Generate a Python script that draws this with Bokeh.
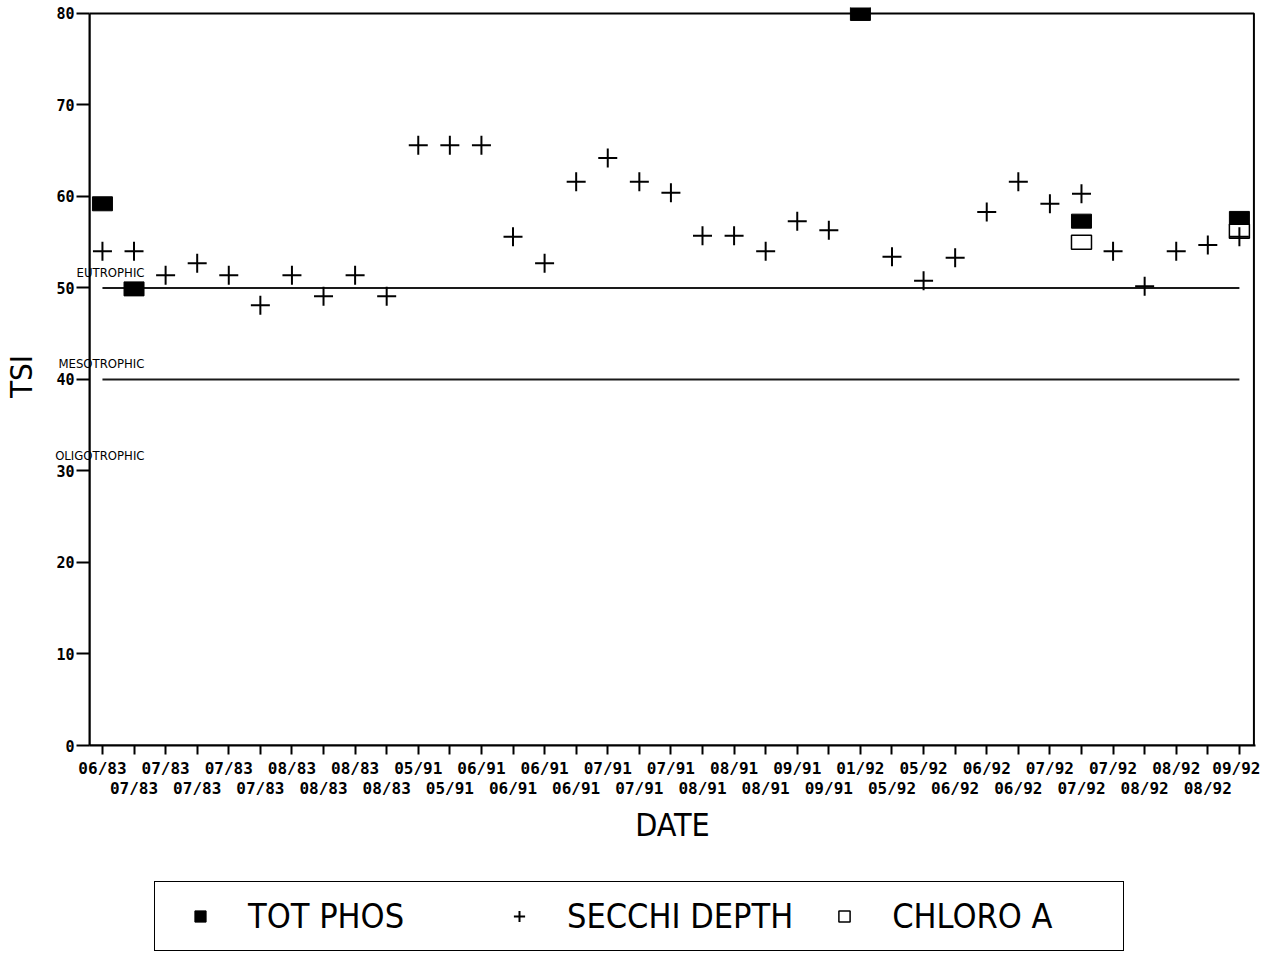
import numpy as np
from bokeh.plotting import figure
from bokeh.layouts import column
from bokeh.models import (Range1d, FixedTicker, SingleIntervalTicker, LinearAxis,
                          Legend, LegendItem, BoxAnnotation, ColumnDataSource)
from bokeh.embed import file_html
from bokeh.resources import INLINE

# ---------------- data ----------------
dates = ["06/83", "07/83", "07/83", "07/83", "07/83", "07/83", "08/83", "08/83",
         "08/83", "08/83", "05/91", "05/91", "06/91", "06/91", "06/91", "06/91",
         "07/91", "07/91", "07/91", "08/91", "08/91", "08/91", "09/91", "09/91",
         "01/92", "05/92", "05/92", "06/92", "06/92", "06/92", "07/92", "07/92",
         "07/92", "08/92", "08/92", "08/92", "09/92"]

secchi_depth = [54.0, 54.0, 51.4, 52.7, 51.4, 48.1, 51.4, 49.1, 51.4, 49.1,
                65.6, 65.6, 65.6, 55.6, 52.7, 61.6, 64.2, 61.6, 60.4, 55.7,
                55.7, 54.0, 57.3, 56.3, None, 53.4, 50.8, 53.3, 58.3, 61.6,
                59.2, 60.3, 54.0, 50.2, 54.0, 54.7, 55.6]

tot_phos = [59.2, 49.9, None, None, None, None, None, None, None, None,
            None, None, None, None, None, None, None, None, None, None,
            None, None, None, None, 80.0, None, None, None, None, None,
            None, 57.3, None, None, None, None, 57.6]

chloro_a = [None, None, None, None, None, None, None, None, None, None,
            None, None, None, None, None, None, None, None, None, None,
            None, None, None, None, None, None, None, None, None, None,
            None, 55.0, None, None, None, None, 56.2]

trophic_lines = [50, 40]
trophic_names = ["EUTROPHIC", "MESOTROPHIC", "OLIGOTROPHIC"]
trophic_label_levels = [50, 40, 30]
y_ticks = [0, 10, 20, 30, 40, 50, 60, 70, 80]


def arr(v):
    return np.array([np.nan if a is None else a for a in v], dtype=float)


n = len(dates)
xs = np.arange(n)
src = ColumnDataSource(dict(x=xs, secchi=arr(secchi_depth), tp=arr(tot_phos),
                            chl=arr(chloro_a)))
tp_mask = ~np.isnan(arr(tot_phos))
chl_mask = ~np.isnan(arr(chloro_a))
src_tp = ColumnDataSource(dict(x=xs[tp_mask], y=arr(tot_phos)[tp_mask]))
src_chl = ColumnDataSource(dict(x=xs[chl_mask], y=arr(chloro_a)[chl_mask]))

NARROW = "DejaVu Sans Condensed, Liberation Sans, sans-serif"
MONO = "DejaVu Sans Mono"

FRAME_H = 739
Y_END = y_ticks[-1] + 0.65
PX_PER_UNIT = FRAME_H / Y_END
X_END = n - 1 + 0.51

p = figure(width=1260, height=7 + FRAME_H + 100, output_backend="svg",
           toolbar_location=None,
           x_range=Range1d(-0.41, X_END),
           y_range=Range1d(0, Y_END),
           min_border_left=82, min_border_right=5, min_border_top=7,
           min_border_bottom=100)
p.outline_line_color = None
p.xgrid.visible = False
p.ygrid.visible = False
p.background_fill_color = "white"
p.border_fill_color = "white"

# frame box 0..80
p.add_layout(BoxAnnotation(bottom=y_ticks[0], top=y_ticks[-1], right=X_END - 0.05,
                           fill_alpha=0, line_color="black", line_alpha=1,
                           line_width=2))

# reference lines
p.segment(x0=[xs[0]] * len(trophic_lines), x1=[xs[-1]] * len(trophic_lines),
          y0=trophic_lines, y1=trophic_lines, line_color="#1a1a1a", line_width=2)

# data
p.rect("x", "y", source=src_tp, width=20, height=14, width_units="screen",
       height_units="screen", fill_color="black", line_color="black")
p.rect("x", "y", source=src_chl, width=20, height=14, width_units="screen",
       height_units="screen", fill_color="white", line_color="black", line_width=1.5)
p.scatter("x", "secchi", source=src, marker="cross", size=19,
          line_color="black", line_width=2)

# x axes (two rows of labels)
ticker = FixedTicker(ticks=list(range(n)), minor_ticks=[])
xa = p.xaxis[0]
xa.ticker = ticker
xa.major_label_overrides = {i: (d if i % 2 == 0 else "") for i, d in enumerate(dates)}
xa.axis_line_width = 2
xa.major_tick_line_width = 2
xa.major_tick_out = 9
xa.major_tick_in = 0
xa.minor_tick_line_color = None
xa.major_label_standoff = 4
xa.major_label_text_font = MONO
xa.major_label_text_font_style = "bold"
xa.major_label_text_font_size = "16px"
xa.major_label_text_color = "black"

xa2 = LinearAxis(ticker=ticker)
xa2.major_label_overrides = {i: (d if i % 2 == 1 else "") for i, d in enumerate(dates)}
xa2.axis_line_color = None
xa2.major_tick_line_color = None
xa2.major_tick_out = 0
xa2.major_tick_in = 0
xa2.minor_tick_line_color = None
xa2.major_label_standoff = -2
xa2.major_label_text_font = MONO
xa2.major_label_text_font_style = "bold"
xa2.major_label_text_font_size = "16px"
xa2.major_label_text_color = "black"
xa2.axis_label = "DATE"
xa2.axis_label_text_font = NARROW
xa2.axis_label_text_font_style = "normal"
xa2.axis_label_text_font_size = "32px"
xa2.axis_label_text_color = "black"
xa2.axis_label_standoff = 5
p.add_layout(xa2, "below")

# y axis
ya = p.yaxis[0]
ya.ticker = SingleIntervalTicker(interval=10, num_minor_ticks=0)
ya.bounds = (y_ticks[0], y_ticks[-1])
ya.axis_line_width = 2
ya.major_tick_line_width = 2
ya.major_tick_out = 13
ya.major_tick_in = 0
ya.minor_tick_line_color = None
ya.major_label_standoff = 2
ya.major_label_text_font = MONO
ya.major_label_text_font_style = "bold"
ya.major_label_text_font_size = "15px"
ya.major_label_text_color = "black"
ya.axis_label = "TSI"
ya.axis_label_text_font = NARROW
ya.axis_label_text_font_style = "normal"
ya.axis_label_text_font_size = "31px"
ya.axis_label_text_color = "black"
ya.axis_label_standoff = 14

# trophic-state names: an extra label-only axis whose labels float over the main axis
label_shift = 15.5 / PX_PER_UNIT
label_ticks = [lev + label_shift for lev in trophic_label_levels]
ya2 = LinearAxis(ticker=FixedTicker(ticks=label_ticks, minor_ticks=[]))
ya2.major_label_overrides = {t: nm for t, nm in zip(label_ticks, trophic_names)}
ya2.axis_line_color = None
ya2.major_tick_line_color = None
ya2.major_tick_out = 0
ya2.major_tick_in = 0
ya2.minor_tick_line_color = None
ya2.major_label_standoff = -144
ya2.major_label_text_font = NARROW
ya2.major_label_text_font_size = "13px"
ya2.major_label_text_color = "black"
p.add_layout(ya2, "left")

# legend figure below
p2 = figure(width=1260, height=106, output_backend="svg", toolbar_location=None,
            x_range=Range1d(0, 1), y_range=Range1d(0, 1),
            min_border_left=0, min_border_right=0, min_border_top=0,
            min_border_bottom=0)
p2.axis.visible = False
p2.xgrid.visible = False
p2.ygrid.visible = False
p2.outline_line_color = None
l_tp = p2.scatter("x", "tp", source=src, marker="square", size=17,
                  fill_color="black", line_color="black")
l_sd = p2.scatter("x", "secchi", source=src, marker="cross", size=20,
                  line_color="black", line_width=2)
l_chl = p2.scatter("x", "chl", source=src, marker="square", size=16,
                   fill_color="white", line_color="black", line_width=1.5)

legend = Legend(items=[LegendItem(label="TOT PHOS", renderers=[l_tp]),
                       LegendItem(label="SECCHI DEPTH", renderers=[l_sd]),
                       LegendItem(label="CHLORO A", renderers=[l_chl])],
                orientation="horizontal", location=(65, 1),
                padding=11, spacing=17, margin=0,
                glyph_width=68, glyph_height=28, label_standoff=14,
                label_width=220, label_height=46,
                label_text_font=NARROW, label_text_font_size="34px",
                label_text_color="black",
                border_line_color="black", border_line_alpha=1,
                border_line_width=1.5,
                background_fill_color="white", background_fill_alpha=1)
p2.add_layout(legend, "center")

open("out.html", "w").write(file_html(column(p, p2), INLINE))
